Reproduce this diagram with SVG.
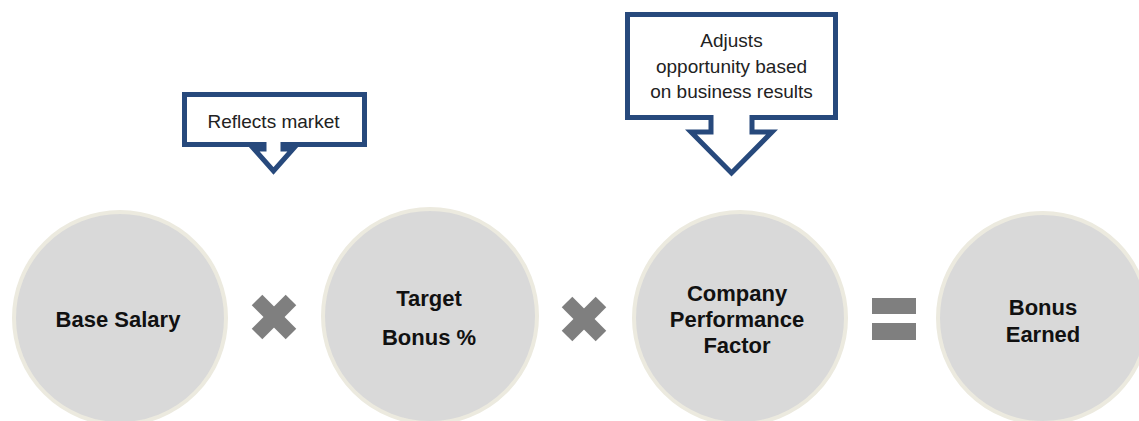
<svg xmlns="http://www.w3.org/2000/svg" width="1139" height="421" viewBox="0 0 1139 421">
  <style>
    .disc { fill: #d9d9d9; stroke: #eceadf; stroke-width: 4; }
    .label { font-family: "Liberation Sans", Arial, sans-serif; font-weight: bold; font-size: 22px; fill: #111111; text-anchor: middle; }
    .note { font-family: "Liberation Sans", Arial, sans-serif; font-size: 19px; fill: #222222; text-anchor: middle; }
    .callout { fill: #ffffff; stroke: #27497c; stroke-width: 5; stroke-linejoin: miter; }
    .op { fill: #7f7f7f; }
  </style>
  <defs>
    <g id="times">
      <rect class="op" x="-24" y="-7.5" width="48" height="15" transform="rotate(45)"/>
      <rect class="op" x="-24" y="-7.5" width="48" height="15" transform="rotate(-45)"/>
    </g>
  </defs>
  <rect width="1139" height="421" fill="#ffffff"/>

  <!-- callouts pointing down at the factors -->
  <g id="callout-market">
    <path class="callout" d="M184.5,94.5 H364.5 V144.5 H283 V149 H293 L273.5,171 L254,149 H264 V144.5 H184.5 Z"/>
    <text class="note" x="273.5" y="128">Reflects market</text>
  </g>
  <g id="callout-performance">
    <path class="callout" d="M627.5,14.5 H835.5 V117.5 H752 V132 H772 L731.5,173 L691,132 H711 V117.5 H627.5 Z"/>
    <text class="note" x="731.5" y="47">Adjusts</text>
    <text class="note" x="731.5" y="73">opportunity based</text>
    <text class="note" x="731.5" y="98">on business results</text>
  </g>

  <!-- factor nodes -->
  <g id="base-salary">
    <circle class="disc" cx="120" cy="318" r="106"/>
    <text class="label" x="118" y="327">Base Salary</text>
  </g>
  <g id="target-bonus">
    <circle class="disc" cx="430" cy="316" r="107"/>
    <text class="label" x="429" y="306">Target</text>
    <text class="label" x="429" y="345">Bonus %</text>
  </g>
  <g id="company-performance">
    <circle class="disc" cx="740" cy="318" r="106"/>
    <text class="label" x="737" y="301">Company</text>
    <text class="label" x="737" y="327">Performance</text>
    <text class="label" x="737" y="353">Factor</text>
  </g>
  <g id="bonus-earned">
    <circle class="disc" cx="1043" cy="318" r="105"/>
    <text class="label" x="1043" y="315">Bonus</text>
    <text class="label" x="1043" y="342">Earned</text>
  </g>

  <!-- operators between the factors -->
  <g id="operators">
    <use href="#times" x="274" y="317"/>
    <use href="#times" x="584" y="319"/>
    <rect class="op" x="872" y="298" width="44" height="16"/>
    <rect class="op" x="872" y="323" width="44" height="17"/>
  </g>
</svg>
